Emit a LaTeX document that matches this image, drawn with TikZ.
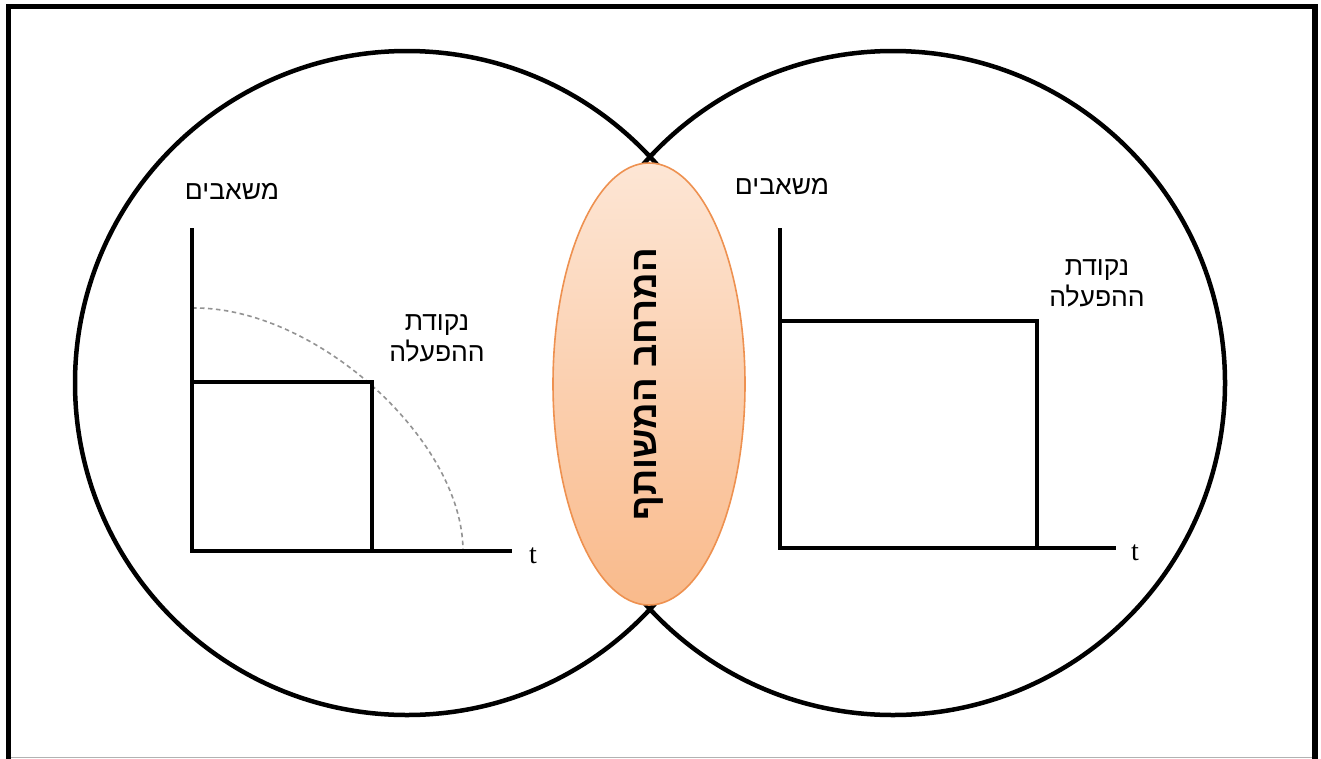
\documentclass[tikz,border=0pt]{standalone}
\usepackage{fontspec}
\usetikzlibrary{shapes.geometric}
\TeXXeTstate=1
\newfontfamily\hebfont[Script=Hebrew]{Liberation Sans}
\newfontfamily\tfont{Liberation Serif}
\definecolor{ellborder}{HTML}{EE9150}
\definecolor{elltop}{HTML}{FDE6D5}
\definecolor{ellbot}{HTML}{F9BA8B}
\tikzset{
  bigcirc/.style={circle, draw=black, line width=4.5pt, minimum size=664pt, inner sep=0pt},
  axis/.style={line width=3.6pt},
  plotline/.style={line width=3.4pt},
  heblabel/.style={font=\hebfont\fontsize{26.5}{31}\selectfont, align=center, inner sep=0pt},
  tlabel/.style={font=\tfont\fontsize{28}{30}\selectfont, inner sep=0pt},
  guide/.style={draw=gray!85, line width=1.6pt, dash pattern=on 4.5pt off 3.5pt}
}
\begin{document}
\begin{tikzpicture}[x=1pt, y=-1pt]
\useasboundingbox (0,0) rectangle (1321,758);
\fill[white] (0,0) rectangle (1321,758);
% frame
\draw[gray!60, line width=1pt] (8.5,757) -- (1315,757);
\draw[line width=5.5pt, line cap=rect] (8.5,762) -- (8.5,6.5) -- (1315,6.5) -- (1315,762);
% circles
\node[bigcirc] (lc) at (407,383) {};
\node[bigcirc] (rc) at (893,383) {};
% shared space ellipse
\node[ellipse, draw=ellborder, line width=1.6pt, top color=elltop, bottom color=ellbot,
      minimum width=192pt, minimum height=442pt, inner sep=0pt] (mid) at (649,384) {};
\node[rotate=90, font=\hebfont\bfseries\fontsize{36.5}{38}\selectfont, inner sep=0pt] (midtext) at (mid.center) {\beginR המרחב המשותף\endR};
% left graph
\coordinate (lo) at (192,551);
\coordinate (ly) at (192,228);
\coordinate (lx) at (512,551);
\coordinate (lr1) at (192,382);
\coordinate (lr2) at (372,382);
\coordinate (lr3) at (372,551);
\coordinate (lg1) at (192,308);
\coordinate (lg2) at (463,551);
\draw[guide] (lg1) .. controls (315,306) and (463,440) .. (lg2);
\draw[axis] (ly) -- (lo) -- (lx);
\draw[plotline] (lr1) -- (lr2) -- (lr3);
\node[tlabel] (lt) at (533,556) {t};
\node[heblabel] (lres) at (232,191) {\beginR משאבים\endR};
\node[heblabel] (lop) at (437,338) {\beginR נקודת\endR\\\beginR ההפעלה\endR};
% right graph
\coordinate (ro) at (780,548);
\coordinate (ry) at (780,228);
\coordinate (rx) at (1116,548);
\coordinate (rr1) at (780,321);
\coordinate (rr2) at (1037,321);
\coordinate (rr3) at (1037,548);
\draw[axis] (ry) -- (ro) -- (rx);
\draw[plotline] (rr1) -- (rr2) -- (rr3);
\node[tlabel] (rt) at (1135,553) {t};
\node[heblabel] (rres) at (782,186) {\beginR משאבים\endR};
\node[heblabel] (rop) at (1097,283) {\beginR נקודת\endR\\\beginR ההפעלה\endR};
\end{tikzpicture}
\end{document}
